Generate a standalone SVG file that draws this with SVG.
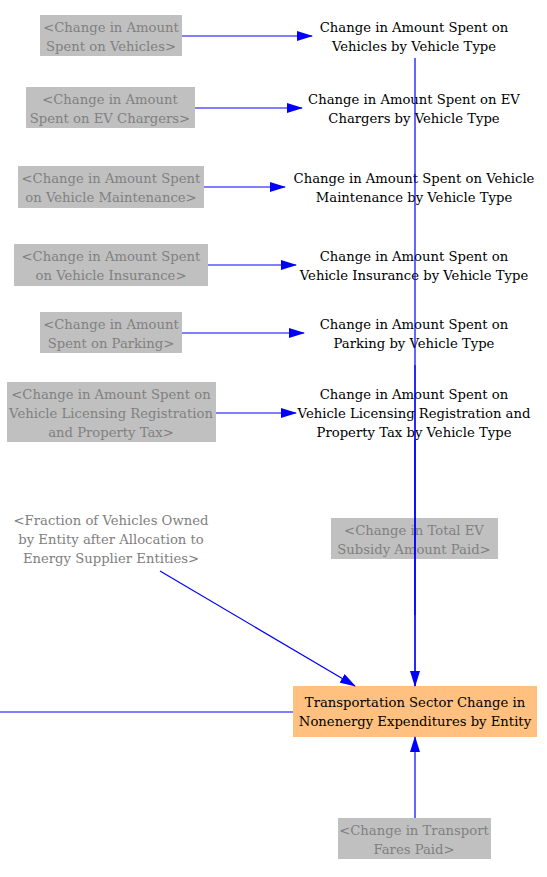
<svg xmlns="http://www.w3.org/2000/svg" width="547" height="877" viewBox="0 0 547 877">
<style>
text{font-family:"DejaVu Serif","Liberation Serif",serif;font-size:13.2px;text-anchor:middle}
.g{fill:#808080}
.k{fill:#000}
.gb{fill:#c0c0c0}
.c{stroke:#0000ff;stroke-width:1.2;fill:none}
</style>
<defs>
<marker id="ah" viewBox="0 0 16 10" refX="15" refY="5" markerWidth="16" markerHeight="10" markerUnits="userSpaceOnUse" orient="auto">
<path d="M0,0 L16,5 L0,10 Z" fill="#0000ff"/>
</marker>
</defs>
<g id="n1"><rect class="gb" x="40" y="15" width="142" height="41"/><text class="g" x="111" y="32">&lt;Change in Amount</text><text class="g" x="111" y="51">Spent on Vehicles&gt;</text></g>
<g id="n2"><rect class="gb" x="26" y="87" width="169" height="41"/><text class="g" x="110" y="104">&lt;Change in Amount</text><text class="g" x="110" y="123">Spent on EV Chargers&gt;</text></g>
<g id="n3"><rect class="gb" x="18" y="166" width="186" height="42"/><text class="g" x="111" y="183">&lt;Change in Amount Spent</text><text class="g" x="111" y="202">on Vehicle Maintenance&gt;</text></g>
<g id="n4"><rect class="gb" x="14" y="244" width="194" height="42"/><text class="g" x="111" y="261">&lt;Change in Amount Spent</text><text class="g" x="111" y="280">on Vehicle Insurance&gt;</text></g>
<g id="n5"><rect class="gb" x="40" y="312" width="142" height="41"/><text class="g" x="111" y="329">&lt;Change in Amount</text><text class="g" x="111" y="348">Spent on Parking&gt;</text></g>
<g id="n6"><rect class="gb" x="7" y="382" width="209" height="60"/><text class="g" x="111" y="399">&lt;Change in Amount Spent on</text><text class="g" x="111" y="418">Vehicle Licensing Registration</text><text class="g" x="111" y="437">and Property Tax&gt;</text></g>
<g id="r1"><text class="k" x="414" y="32">Change in Amount Spent on</text><text class="k" x="414" y="51">Vehicles by Vehicle Type</text></g>
<g id="r2"><text class="k" x="414" y="104">Change in Amount Spent on EV</text><text class="k" x="414" y="123">Chargers by Vehicle Type</text></g>
<g id="r3"><text class="k" x="414" y="183">Change in Amount Spent on Vehicle</text><text class="k" x="414" y="202">Maintenance by Vehicle Type</text></g>
<g id="r4"><text class="k" x="414" y="261">Change in Amount Spent on</text><text class="k" x="414" y="280">Vehicle Insurance by Vehicle Type</text></g>
<g id="r5"><text class="k" x="414" y="329">Change in Amount Spent on</text><text class="k" x="414" y="348">Parking by Vehicle Type</text></g>
<g id="r6"><text class="k" x="414" y="399">Change in Amount Spent on</text><text class="k" x="414" y="418">Vehicle Licensing Registration and</text><text class="k" x="414" y="437">Property Tax by Vehicle Type</text></g>
<g id="n7"><text class="g" x="111" y="525">&lt;Fraction of Vehicles Owned</text><text class="g" x="111" y="544">by Entity after Allocation to</text><text class="g" x="111" y="563">Energy Supplier Entities&gt;</text></g>
<g id="n8"><rect class="gb" x="331" y="518" width="167" height="41"/><text class="g" x="414" y="535">&lt;Change in Total EV</text><text class="g" x="414" y="554">Subsidy Amount Paid&gt;</text></g>
<g id="main"><rect x="293" y="686" width="244" height="51" fill="#ffc080"/><text class="k" x="415" y="707">Transportation Sector Change in</text><text class="k" x="415" y="726">Nonenergy Expenditures by Entity</text></g>
<g id="n9"><rect class="gb" x="338" y="818" width="153" height="41"/><text class="g" x="414" y="835">&lt;Change in Transport</text><text class="g" x="414" y="854">Fares Paid&gt;</text></g>
<g id="connectors">
<line class="c" x1="182" y1="36" x2="312" y2="36" marker-end="url(#ah)"/>
<line class="c" x1="195" y1="108" x2="302" y2="108" marker-end="url(#ah)"/>
<line class="c" x1="204" y1="187" x2="285" y2="187" marker-end="url(#ah)"/>
<line class="c" x1="208" y1="265" x2="296" y2="265" marker-end="url(#ah)"/>
<line class="c" x1="182" y1="333" x2="304" y2="333" marker-end="url(#ah)"/>
<line class="c" x1="216" y1="413" x2="296" y2="413" marker-end="url(#ah)"/>
<line class="c" x1="415" y1="58" x2="415" y2="686" marker-end="url(#ah)"/>
<line class="c" x1="415" y1="365" x2="415" y2="686"/>
<line class="c" x1="415" y1="440" x2="415" y2="615"/>
<line class="c" x1="160" y1="571" x2="355" y2="686" marker-end="url(#ah)"/>
<line class="c" x1="0" y1="712" x2="293" y2="712"/>
<line class="c" x1="415" y1="818" x2="415" y2="737" marker-end="url(#ah)"/>
</g>
</svg>
